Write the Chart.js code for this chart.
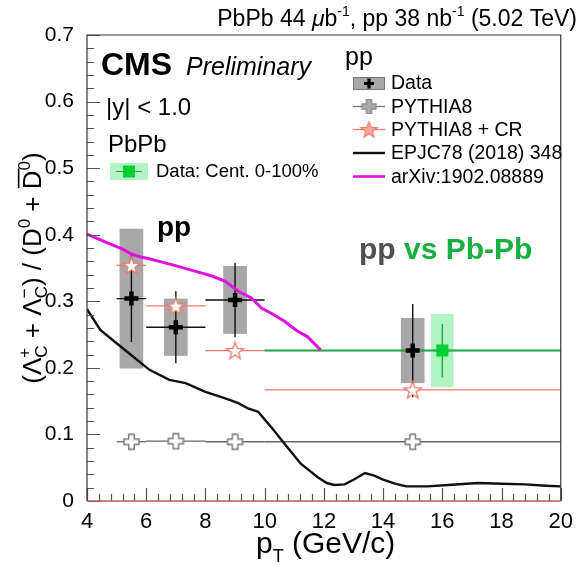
<!DOCTYPE html>
<html><head><meta charset="utf-8">
<script src="https://cdn.jsdelivr.net/npm/chart.js@4.4.1/dist/chart.umd.min.js"></script>
<style>html,body{margin:0;padding:0;background:#fff;overflow:hidden}#wrap{width:581px;height:566px;position:relative}</style>
</head><body><div id="wrap"><canvas id="c" width="581" height="566"></canvas></div>
<script>
// ---------- data ----------
const xTicks = [4, 6, 8, 10, 12, 14, 16, 18, 20];
const yTicks = [0, 0.1, 0.2, 0.3, 0.4, 0.5, 0.6, 0.7];

// pp data
const ppX     = [5.5, 7, 9, 15];
const ppY     = [0.304, 0.261, 0.302, 0.226];
const ppXLow  = [5, 6, 8, 10];
const ppXHigh = [6, 8, 10, 20];
const ppStat  = [0.065, 0.054, 0.056, 0.070];
const ppSys   = [0.105, 0.043, 0.051, 0.049];

// PbPb data
const pbX     = [16];
const pbY     = [0.226];
const pbXLow  = [10];
const pbXHigh = [20];
const pbStat  = [0.040];
const pbSys   = [0.055];

// PYTHIA8 and PYTHIA8 + CR (same bins as pp)
const pyX  = [5.5, 7, 9, 15];
const pyY  = [0.089, 0.090, 0.089, 0.089];
const crY  = [0.354, 0.293, 0.226, 0.167];

// EPJC78 (2018) 348 curve
const epjcX = [4, 4.45, 5.0, 5.55, 6.11, 6.78, 7.33, 8.0, 8.67, 9.11, 9.44, 9.78, 10.22, 10.67, 11.22, 11.78, 12.1, 12.35, 12.7, 13.0, 13.39, 13.7, 14.0, 14.4, 14.78, 15.5, 16.2, 17.2, 18.0, 18.8, 19.5, 20];
const epjcY = [0.288, 0.257, 0.237, 0.217, 0.197, 0.182, 0.177, 0.164, 0.154, 0.147, 0.139, 0.134, 0.111, 0.086, 0.056, 0.036, 0.027, 0.024, 0.025, 0.032, 0.042, 0.038, 0.032, 0.026, 0.022, 0.022, 0.024, 0.027, 0.026, 0.025, 0.023, 0.022];

// arXiv:1902.08889 curve
const arxX = [4, 4.67, 5.22, 5.5, 5.78, 6.1, 6.44, 7.11, 7.67, 8.22, 8.67, 9.11, 9.55, 9.89, 10.22, 10.67, 11.11, 11.44, 11.89];
const arxY = [0.401, 0.388, 0.378, 0.371, 0.367, 0.364, 0.360, 0.352, 0.345, 0.338, 0.330, 0.315, 0.305, 0.290, 0.282, 0.270, 0.255, 0.247, 0.227];

// ---------- styles ----------
const FONT = '"Liberation Sans", Arial, Helvetica, sans-serif';
const SALMON = '#f07868';
const MAGENTA = '#e010e0';
const GREEN = '#00d030';
const GRAYBOX = 'rgba(110,110,110,0.6)';
const GREENBOX = 'rgba(0,220,60,0.30)';

function makeImg(size, draw) {
  const c = document.createElement('canvas');
  c.width = size; c.height = size;
  draw(c.getContext('2d'), size / 2);
  return c;
}
function crossPath(g, cx, cy, L, W) {
  g.beginPath();
  g.moveTo(cx - W, cy - L); g.lineTo(cx + W, cy - L); g.lineTo(cx + W, cy - W);
  g.lineTo(cx + L, cy - W); g.lineTo(cx + L, cy + W); g.lineTo(cx + W, cy + W);
  g.lineTo(cx + W, cy + L); g.lineTo(cx - W, cy + L); g.lineTo(cx - W, cy + W);
  g.lineTo(cx - L, cy + W); g.lineTo(cx - L, cy - W); g.lineTo(cx - W, cy - W);
  g.closePath();
}
function starPath(g, cx, cy, R, r) {
  g.beginPath();
  for (let i = 0; i < 10; i++) {
    const a = -Math.PI / 2 + i * Math.PI / 5;
    const rad = i % 2 ? r : R;
    g.lineTo(cx + rad * Math.cos(a), cy + rad * Math.sin(a));
  }
  g.closePath();
}
const openCrossImg = makeImg(19, (g, c) => { crossPath(g, c, c, 7.5, 2.8); g.fillStyle = '#fff'; g.fill(); g.strokeStyle = '#777'; g.lineWidth = 1.4; g.stroke(); });
const legCrossImg  = makeImg(19, (g, c) => { crossPath(g, c, c, 7, 2.6); g.fillStyle = '#aaa'; g.fill(); g.strokeStyle = '#888'; g.lineWidth = 1.2; g.stroke(); });
const openStarImg  = makeImg(21, (g, c) => { starPath(g, c, c + 0.8, 9, 3.7); g.fillStyle = '#fff'; g.fill(); g.strokeStyle = SALMON; g.lineWidth = 1.3; g.stroke(); });
const legStarImg   = makeImg(21, (g, c) => { starPath(g, c, c + 0.8, 8.5, 3.5); g.fillStyle = '#f8a898'; g.fill(); g.strokeStyle = SALMON; g.lineWidth = 1.2; g.stroke(); });

function pts(xs, ys) { return xs.map((x, i) => ({ x: x, y: ys[i] })); }

function fnt(s) { return (s.it ? 'italic ' : '') + (s.b ? 'bold ' : '') + s.sz + 'px ' + FONT; }
function rich(ctx, segs, x, y, align) {
  let total = 0;
  segs.forEach(s => { ctx.font = fnt(s); s.w = ctx.measureText(s.t).width; if (s.adv !== false) total += s.w; });
  let cx = align === 'right' ? x - total : align === 'center' ? x - total / 2 : x;
  ctx.textAlign = 'left'; ctx.textBaseline = 'alphabetic';
  segs.forEach(s => {
    ctx.font = fnt(s);
    ctx.fillStyle = s.color || '#000';
    ctx.fillText(s.t, cx, y + (s.dy || 0));
    if (s.over) {
      ctx.strokeStyle = s.color || '#000'; ctx.lineWidth = 1.6;
      ctx.beginPath(); ctx.moveTo(cx + 1, y - s.sz * 0.86); ctx.lineTo(cx + s.w + 2, y - s.sz * 0.86); ctx.stroke();
    }
    if (s.adv !== false) cx += s.w;
  });
}

const decor = {
  id: 'decor',
  beforeDatasetsDraw(chart) {
    const ctx = chart.ctx, xs = chart.scales.x, ys = chart.scales.y;
    const px = v => xs.getPixelForValue(v), py = v => ys.getPixelForValue(v);
    const HW = 0.4; // half width of systematic boxes (x units)
    ctx.save();
    // pp systematic boxes
    ctx.fillStyle = GRAYBOX;
    ppX.forEach((x, i) => {
      ctx.fillRect(px(x - HW), py(ppY[i] + ppSys[i]), px(x + HW) - px(x - HW), py(ppY[i] - ppSys[i]) - py(ppY[i] + ppSys[i]));
    });
    // PbPb systematic box
    ctx.fillStyle = GREENBOX;
    pbX.forEach((x, i) => {
      ctx.fillRect(px(x - HW * 0.95), py(pbY[i] + pbSys[i]), px(x + HW * 0.95) - px(x - HW * 0.95), py(pbY[i] - pbSys[i]) - py(pbY[i] + pbSys[i]));
    });
    // PYTHIA8 horizontal bars
    ctx.lineWidth = 1.3; ctx.strokeStyle = '#666';
    pyX.forEach((x, i) => { ctx.beginPath(); ctx.moveTo(px(ppXLow[i]), py(pyY[i])); ctx.lineTo(px(ppXHigh[i]), py(pyY[i])); ctx.stroke(); });
    // PYTHIA8 + CR horizontal bars
    ctx.strokeStyle = SALMON; ctx.lineWidth = 1.3;
    pyX.forEach((x, i) => { ctx.beginPath(); ctx.moveTo(px(ppXLow[i]), py(crY[i])); ctx.lineTo(px(ppXHigh[i]), py(crY[i])); ctx.stroke(); });
    // pp stat error bars
    ctx.strokeStyle = '#111'; ctx.lineWidth = 1.4;
    ppX.forEach((x, i) => {
      ctx.beginPath();
      ctx.moveTo(px(x), py(ppY[i] + ppStat[i])); ctx.lineTo(px(x), py(ppY[i] - ppStat[i]));
      ctx.moveTo(px(ppXLow[i]), py(ppY[i])); ctx.lineTo(px(ppXHigh[i]), py(ppY[i]));
      ctx.stroke();
    });
    // PbPb error bars
    ctx.strokeStyle = '#10b840'; ctx.lineWidth = 1.5;
    pbX.forEach((x, i) => {
      ctx.beginPath();
      ctx.moveTo(px(x), py(pbY[i] + pbStat[i])); ctx.lineTo(px(x), py(pbY[i] - pbStat[i]));
      ctx.moveTo(px(pbXLow[i]), py(pbY[i])); ctx.lineTo(px(pbXHigh[i]), py(pbY[i]));
      ctx.stroke();
    });
    ctx.restore();
  },
  afterDraw(chart) {
    const ctx = chart.ctx, a = chart.chartArea, xs = chart.scales.x, ys = chart.scales.y;
    ctx.save();
    // minor / major ticks (inside)
    ctx.strokeStyle = '#555'; ctx.lineWidth = 1.2;
    ctx.beginPath();
    for (let k = 0; k <= 35; k++) {
      const v = k * 0.02, y = Math.round(ys.getPixelForValue(v)) + 0.5;
      const L = (k % 5 === 0) ? 13 : 7;
      ctx.moveTo(a.left, y); ctx.lineTo(a.left + L, y);
    }
    for (let k = 0; k <= 40; k++) {
      const v = 4 + k * 0.4, x = Math.round(xs.getPixelForValue(v)) + 0.5;
      const L = (k % 5 === 0) ? 13 : 7;
      ctx.moveTo(x, a.bottom); ctx.lineTo(x, a.bottom - L);
    }
    ctx.stroke();
    // frame
    ctx.strokeStyle = '#333'; ctx.lineWidth = 1.2;
    ctx.beginPath();
    ctx.moveTo(a.left, a.bottom); ctx.lineTo(a.left, a.top); ctx.lineTo(a.right, a.top); ctx.lineTo(a.right, a.bottom);
    ctx.stroke();
    ctx.strokeStyle = '#b85a5a'; ctx.lineWidth = 1.5;
    ctx.beginPath(); ctx.moveTo(a.left, a.bottom); ctx.lineTo(a.right, a.bottom); ctx.stroke();

    // top title
    rich(ctx, [
      { t: 'PbPb 44 ', sz: 23 }, { t: 'μ', sz: 23, it: true }, { t: 'b', sz: 23 },
      { t: '-1', sz: 14, dy: -10 }, { t: ', pp 38 nb', sz: 23 }, { t: '-1', sz: 14, dy: -10 },
      { t: ' (5.02 TeV)', sz: 23 }
    ], 577, 26, 'right');

    // CMS Preliminary
    rich(ctx, [{ t: 'CMS', sz: 32, b: true }], 101, 75, 'left');
    rich(ctx, [{ t: 'Preliminary', sz: 25, it: true }], 186, 75, 'left');
    rich(ctx, [{ t: '|y| < 1.0', sz: 24 }], 106, 115, 'left');
    rich(ctx, [{ t: 'PbPb', sz: 24 }], 108, 152, 'left');

    // PbPb legend entry
    ctx.fillStyle = GREENBOX; ctx.fillRect(110, 163, 38, 17);
    ctx.fillStyle = GREEN; ctx.fillRect(123, 165.5, 12, 12);
    ctx.strokeStyle = '#10b840'; ctx.lineWidth = 1;
    ctx.beginPath(); ctx.moveTo(116, 171.5); ctx.lineTo(142, 171.5); ctx.stroke();
    rich(ctx, [{ t: 'Data: Cent. 0-100%', sz: 18.5 }], 156, 176.5, 'left');

    // pp legend
    rich(ctx, [{ t: 'pp', sz: 25 }], 345, 65, 'left');
    const lx0 = 353, lx1 = 385, lxc = 369, tx = 391;
    // Data
    ctx.fillStyle = GRAYBOX; ctx.fillRect(lx0, 77, lx1 - lx0, 13);
    ctx.strokeStyle = '#777'; ctx.lineWidth = 1; ctx.strokeRect(lx0 + 0.5, 77.5, lx1 - lx0 - 1, 12);
    ctx.strokeStyle = '#000'; ctx.lineWidth = 3.2;
    ctx.beginPath(); ctx.moveTo(lxc - 5, 83.5); ctx.lineTo(lxc + 5, 83.5); ctx.moveTo(lxc, 78.5); ctx.lineTo(lxc, 88.5); ctx.stroke();
    rich(ctx, [{ t: 'Data', sz: 19.5 }], tx, 89, 'left');
    // PYTHIA8
    ctx.strokeStyle = '#777'; ctx.lineWidth = 1.3;
    ctx.beginPath(); ctx.moveTo(lx0, 106.5); ctx.lineTo(lx1, 106.5); ctx.stroke();
    ctx.drawImage(legCrossImg, lxc - 9.5, 106.5 - 9.5);
    rich(ctx, [{ t: 'PYTHIA8', sz: 19.5 }], tx, 112.5, 'left');
    // PYTHIA8 + CR
    ctx.strokeStyle = SALMON; ctx.lineWidth = 1.3;
    ctx.beginPath(); ctx.moveTo(lx0, 129.5); ctx.lineTo(lx1, 129.5); ctx.stroke();
    ctx.drawImage(legStarImg, lxc - 10.5, 129.5 - 10.5);
    rich(ctx, [{ t: 'PYTHIA8 + CR', sz: 19.5 }], tx, 135.5, 'left');
    // EPJC
    ctx.strokeStyle = '#111'; ctx.lineWidth = 2.4;
    ctx.beginPath(); ctx.moveTo(lx0, 153); ctx.lineTo(lx1, 153); ctx.stroke();
    rich(ctx, [{ t: 'EPJC78 (2018) 348', sz: 19.5 }], tx, 159, 'left');
    // arXiv
    ctx.strokeStyle = MAGENTA; ctx.lineWidth = 2.6;
    ctx.beginPath(); ctx.moveTo(lx0, 176.5); ctx.lineTo(lx1, 176.5); ctx.stroke();
    rich(ctx, [{ t: 'arXiv:1902.08889', sz: 19.5 }], tx, 182.5, 'left');

    // in-plot labels
    rich(ctx, [{ t: 'pp', sz: 28, b: true }], 157, 236, 'left');
    rich(ctx, [{ t: 'pp ', sz: 30, b: true, color: '#505050' }, { t: 'vs Pb-Pb', sz: 30, b: true, color: '#18b040' }], 359, 259, 'left');

    // x axis title
    rich(ctx, [{ t: 'p', sz: 30 }, { t: 'T', sz: 18, dy: 9 }, { t: ' (GeV/c)', sz: 30 }], 256, 553, 'left');

    // y axis title (rotated)
    ctx.translate(41, 268);
    ctx.rotate(-Math.PI / 2);
    const F = 26, S = 17;
    rich(ctx, [
      { t: '(Λ', sz: F }, { t: '+', sz: S, dy: -11, adv: false }, { t: 'C', sz: S, dy: 6 },
      { t: ' + Λ', sz: F }, { t: '−', sz: S, dy: -11, adv: false }, { t: 'C', sz: S, dy: 6 },
      { t: ') / (D', sz: F }, { t: '0', sz: S, dy: -11 }, { t: ' + ', sz: F },
      { t: 'D', sz: F, over: true }, { t: '0', sz: S, dy: -11 }, { t: ')', sz: F }
    ], 0, 0, 'center');
    ctx.restore();
  }
};

new Chart(document.getElementById('c'), {
  type: 'scatter',
  data: {
    datasets: [
      { label: 'pp Data', data: pts(ppX, ppY), pointStyle: 'cross', pointRadius: 7, pointBorderWidth: 4.5, borderColor: '#000', backgroundColor: '#000', order: 1 },
      { label: 'PbPb Data', data: pts(pbX, pbY), pointStyle: 'rect', pointRadius: 8.5, borderColor: GREEN, backgroundColor: GREEN, pointBorderWidth: 0, order: 2 },
      { label: 'PYTHIA8 + CR', data: pts(pyX, crY), pointStyle: openStarImg, order: 3 },
      { label: 'PYTHIA8', data: pts(pyX, pyY), pointStyle: openCrossImg, order: 4 },
      { label: 'arXiv:1902.08889', data: pts(arxX, arxY), showLine: true, borderColor: MAGENTA, borderWidth: 3, pointRadius: 0, order: 5 },
      { label: 'EPJC78 (2018) 348', data: pts(epjcX, epjcY), showLine: true, borderColor: '#111', borderWidth: 2.4, pointRadius: 0, order: 6 }
    ]
  },
  options: {
    responsive: false,
    animation: false,
    events: [],
    layout: { padding: { top: 35, right: 14, left: 0, bottom: 0 } },
    plugins: { legend: { display: false }, tooltip: { enabled: false }, title: { display: false } },
    scales: {
      x: {
        type: 'linear', min: 4, max: 20,
        grid: { display: false, drawTicks: false }, border: { display: false },
        afterBuildTicks: s => { s.ticks = xTicks.map(v => ({ value: v })); },
        afterFit: s => { s.height = 65; },
        ticks: { padding: 8, color: '#000', font: { family: FONT, size: 22 }, maxRotation: 0, autoSkip: false, callback: v => String(v) }
      },
      y: {
        type: 'linear', min: 0, max: 0.7,
        grid: { display: false, drawTicks: false }, border: { display: false },
        afterBuildTicks: s => { s.ticks = yTicks.map(v => ({ value: v })); },
        afterFit: s => { s.width = 87; },
        ticks: { padding: 13, color: '#000', font: { family: FONT, size: 21 }, autoSkip: false, callback: v => (v === 0 ? '0' : v.toFixed(1)) }
      }
    }
  },
  plugins: [decor]
});
</script>
</body></html>
